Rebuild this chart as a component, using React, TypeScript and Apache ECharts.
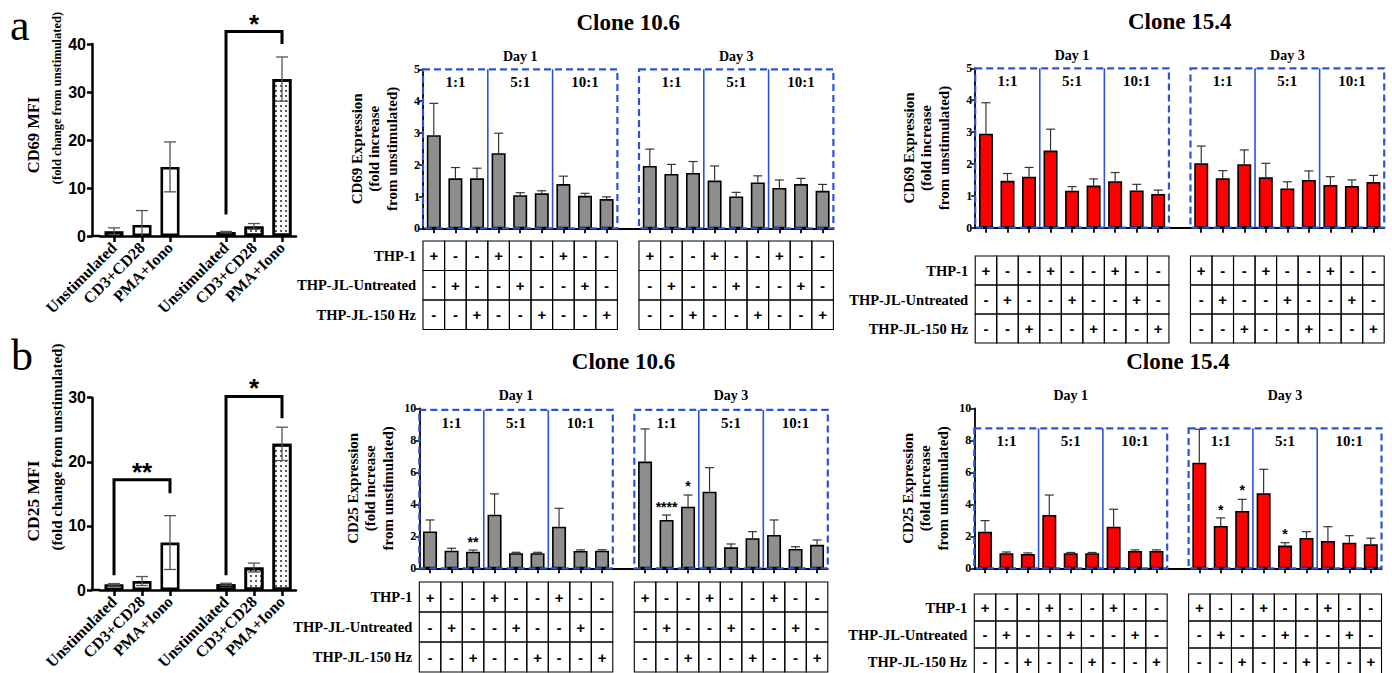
import { useEffect, useRef } from 'react';
import * as echarts from 'echarts';

const SERIF = '"Liberation Serif", "Times New Roman", serif';
const SANS = '"Liberation Sans", Arial, sans-serif';
const BLUE = '#2d52d8';

// ---------- left panels (MFI) ----------
const stimCategories = ['Unstimulated', 'CD3+CD28', 'PMA+Iono', '', 'Unstimulated', 'CD3+CD28', 'PMA+Iono'];
const cd69Mfi = [1.0, 2.3, 14.4, null, 0.8, 2.0, 32.7];
const cd69MfiErr = [0.7, 3.0, 5.2, null, 0.15, 0.6, 4.6];
const cd25Mfi = [0.9, 1.4, 7.4, null, 0.9, 3.5, 22.8];
const cd25MfiErr = [0.1, 0.7, 4.2, null, 0.15, 0.7, 2.6];
// [fromIndex, toIndex, leftLegBottom, top, rightLegBottom, label]
const cd69Brackets: any[] = [[4, 6, 4.5, 42.6, 40.0, '*']];
const cd25Brackets: any[] = [[0, 2, 2.3, 17.2, 15.1, '**'], [4, 6, 2.3, 30.2, 26.8, '*']];

// ---------- clone panels ----------
const days = ['Day 1', 'Day 3'];
const ratios = ['1:1', '5:1', '10:1'];
const cellTypes = ['THP-1', 'THP-JL-Untreated', 'THP-JL-150 Hz'];
const thp1Row = ['+', '-', '-', '+', '-', '-', '+', '-', '-'];
const untreatedRow = ['-', '+', '-', '-', '+', '-', '-', '+', '-'];
const hz150Row = ['-', '-', '+', '-', '-', '+', '-', '-', '+'];
const tableRows = [thp1Row, untreatedRow, hz150Row];

const cd69Clone106 = [2.93, 1.57, 1.57, 2.36, 1.04, 1.10, 1.39, 1.02, 0.92, null, 1.96, 1.71, 1.74, 1.50, 1.00, 1.44, 1.27, 1.39, 1.18];
const cd69Clone106Err = [1.0, 0.34, 0.32, 0.63, 0.08, 0.08, 0.25, 0.08, 0.07, null, 0.53, 0.30, 0.36, 0.46, 0.13, 0.21, 0.25, 0.18, 0.2];
const cd69Clone154 = [2.95, 1.47, 1.60, 2.42, 1.16, 1.32, 1.46, 1.17, 1.06, null, 2.02, 1.55, 1.99, 1.58, 1.23, 1.50, 1.34, 1.31, 1.43];
const cd69Clone154Err = [0.97, 0.23, 0.29, 0.67, 0.13, 0.21, 0.27, 0.19, 0.12, null, 0.54, 0.24, 0.45, 0.44, 0.21, 0.28, 0.26, 0.19, 0.21];
const cd25Clone106 = [2.3, 1.1, 1.04, 3.35, 0.94, 0.94, 2.6, 1.08, 1.1, null, 6.67, 3.02, 3.85, 4.79, 1.31, 1.88, 2.08, 1.21, 1.47];
const cd25Clone106Err = [0.72, 0.15, 0.1, 1.3, 0.06, 0.06, 1.15, 0.07, 0.06, null, 2.04, 0.31, 0.73, 1.5, 0.21, 0.41, 0.94, 0.14, 0.3];
const cd25Clone154 = [2.29, 0.94, 0.9, 3.33, 0.94, 0.94, 2.6, 1.08, 1.08, null, 6.6, 2.65, 3.58, 4.69, 1.42, 1.9, 1.71, 1.6, 1.5];
const cd25Clone154Err = [0.69, 0.08, 0.06, 1.25, 0.05, 0.05, 1.09, 0.07, 0.07, null, 2.09, 0.5, 0.73, 1.5, 0.18, 0.39, 0.89, 0.44, 0.38];
// [categoryIndex, value, label]
const cd25Stars106: any[] = [[2, 1.83, '**'], [11, 4.02, '****'], [12, 5.33, '*']];
const cd25Stars154: any[] = [[11, 3.85, '*'], [12, 5.06, '*'], [14, 2.33, '*']];

const cloneCategories: string[] = [];
days.forEach((d, di) => {
  if (di > 0) cloneCategories.push('');
  ratios.forEach((r) => cellTypes.forEach((c) => cloneCategories.push(`${d} ${r} ${c}`)));
});

const leftPanels = [
  {
    grid: { left: 100, top: 44, width: 196, height: 192 },
    ymax: 40, interval: 10, values: cd69Mfi, errors: cd69MfiErr, brackets: cd69Brackets,
    letter: 'a', letterPos: [10, 25],
    title1: 'CD69 MFI', t1: [33, 135, 16.5],
    title2: '(fold change from unstimulated)', t2: [57, 98, 12.5],
  },
  {
    grid: { left: 100, top: 397.7, width: 196, height: 192.3 },
    ymax: 30, interval: 10, values: cd25Mfi, errors: cd25MfiErr, brackets: cd25Brackets,
    letter: 'b', letterPos: [11, 355],
    title1: 'CD25 MFI', t1: [33, 501, 17.5],
    title2: '(fold change from unstimulated)', t2: [57, 447, 15],
  },
];

const clonePanels = [
  {
    grid: { left: 423, top: 69.3, width: 410.4, height: 159 }, ymax: 5, interval: 1,
    values: cd69Clone106, errors: cd69Clone106Err, color: '#8e8e8e', boxTop: 5,
    yTitle: 'CD69 Expression\n(fold increase\nfrom unstimulated)', title: 'Clone 10.6',
    stars: [], tableTop: 241, rowH: 29.5,
  },
  {
    grid: { left: 975.2, top: 68.3, width: 409, height: 159.4 }, ymax: 5, interval: 1,
    values: cd69Clone154, errors: cd69Clone154Err, color: '#ff0000', boxTop: 5,
    yTitle: 'CD69 Expression\n(fold increase\nfrom unstimulated)', title: 'Clone 15.4',
    stars: [], tableTop: 256, rowH: 29,
  },
  {
    grid: { left: 419.3, top: 408.3, width: 408.5, height: 160 }, ymax: 10, interval: 2,
    values: cd25Clone106, errors: cd25Clone106Err, color: '#8e8e8e', boxTop: 9.9,
    yTitle: 'CD25 Expression\n(fold increase\nfrom unstimulated)', title: 'Clone 10.6',
    stars: cd25Stars106, tableTop: 582, rowH: 30,
  },
  {
    grid: { left: 974.3, top: 408.3, width: 407.2, height: 160 }, ymax: 10, interval: 2,
    values: cd25Clone154, errors: cd25Clone154Err, color: '#ff0000', boxTop: 8.75,
    yTitle: 'CD25 Expression\n(fold increase\nfrom unstimulated)', title: 'Clone 15.4',
    stars: cd25Stars154, tableTop: 594, rowH: 27,
  },
];

const DOTS = {
  symbol: 'circle', symbolSize: 0.8, color: '#000', backgroundColor: '#fff',
  dashArrayX: [2, 3], dashArrayY: [2, 3],
};

function txt(text: string, x: number, y: number, font: string, align = 'center', vAlign = 'middle', extra: any = {}) {
  return { type: 'text', silent: true, ...extra, style: { text, x: extra.rotation ? 0 : x, y: extra.rotation ? 0 : y, font, fill: '#000', align, verticalAlign: vAlign, lineHeight: extra.lineHeight } , ...(extra.rotation ? { x, y } : {}) };
}

function buildOption() {
  const grids: any[] = [];
  const xAxes: any[] = [];
  const yAxes: any[] = [];
  const series: any[] = [];
  const graphics: any[] = [];

  leftPanels.forEach((p) => {
    const k = grids.length;
    grids.push({ ...p.grid });
    xAxes.push({
      type: 'category', gridIndex: k, data: stimCategories,
      axisLine: { show: true, lineStyle: { color: '#000', width: 2.5 } },
      axisTick: { show: true, alignWithLabel: true, length: 6, interval: (_i: number, v: string) => v !== '', lineStyle: { color: '#000', width: 2.5 } },
      axisLabel: { show: true, rotate: 45, interval: 0, fontFamily: SERIF, fontWeight: 'bold', fontSize: 16, color: '#000', margin: 9 },
    });
    yAxes.push({
      type: 'value', gridIndex: k, min: 0, max: p.ymax, interval: p.interval, offset: 8,
      axisLine: { show: true, lineStyle: { color: '#000', width: 2.5 } },
      axisTick: { show: true, length: 5, lineStyle: { color: '#000', width: 2.5 } },
      axisLabel: { fontFamily: SANS, fontWeight: 'bold', fontSize: 16, color: '#000', margin: 6 },
      splitLine: { show: false },
    });
    series.push({
      type: 'bar', xAxisIndex: k, yAxisIndex: k, barWidth: 19, silent: true,
      data: p.values.map((v, i) => (v == null ? '-' : i > 3 ? { value: v, itemStyle: { decal: DOTS } } : v)),
      itemStyle: { color: '#fff', borderColor: '#000', borderWidth: 2.6 },
    });
    series.push({
      type: 'custom', xAxisIndex: k, yAxisIndex: k, z: 5, silent: true,
      data: p.values.map((v, i) => (v == null ? null : [i, v, p.errors[i]])).filter(Boolean),
      renderItem: (_params: any, api: any) => {
        const i = api.value(0), v = api.value(1), e = api.value(2);
        const lo = Math.max(0, v - e);
        const top = api.coord([i, v + e]);
        const bot = api.coord([i, lo]);
        const cap = 6;
        const st = { stroke: '#555', lineWidth: 1.3 };
        const children: any[] = [
          { type: 'line', shape: { x1: top[0], y1: top[1], x2: bot[0], y2: bot[1] }, style: st },
          { type: 'line', shape: { x1: top[0] - cap, y1: top[1], x2: top[0] + cap, y2: top[1] }, style: st },
        ];
        if (lo > 0) children.push({ type: 'line', shape: { x1: bot[0] - cap, y1: bot[1], x2: bot[0] + cap, y2: bot[1] }, style: st });
        return { type: 'group', children };
      },
    });
    series.push({
      type: 'custom', xAxisIndex: k, yAxisIndex: k, z: 6, silent: true,
      data: p.brackets.map((b) => [b[0], b[1], b[2], b[3], b[4]]),
      encode: { x: [0, 1], y: [2, 3, 4] },
      renderItem: (params: any, api: any) => {
        const b = p.brackets[params.dataIndex];
        const a1 = api.coord([b[0], b[2]]);
        const a2 = api.coord([b[0], b[3]]);
        const a3 = api.coord([b[1], b[3]]);
        const a4 = api.coord([b[1], b[4]]);
        return {
          type: 'group', children: [
            { type: 'polyline', shape: { points: [a1, a2, a3, a4] }, style: { stroke: '#000', lineWidth: 3, fill: 'none' } },
            txt(b[5], (a2[0] + a3[0]) / 2, a2[1] - 8, `bold 26px ${SANS}`),
          ],
        };
      },
    });
    // axis extension to offset y axis
    series.push({
      type: 'custom', xAxisIndex: k, yAxisIndex: k, z: 4, silent: true,
      data: [[0, 0]],
      renderItem: (_params: any, api: any) => {
        const bw = api.size([1, 0])[0];
        const c = api.coord([0, 0]);
        const x0 = c[0] - bw / 2;
        return { type: 'line', shape: { x1: x0 - 9.25, y1: c[1], x2: x0, y2: c[1] }, style: { stroke: '#000', lineWidth: 2.5 } };
      },
    });
    graphics.push(txt(p.letter, p.letterPos[0], p.letterPos[1], `44px ${SERIF}`, 'left', 'middle'));
    graphics.push(txt(p.title1, p.t1[0], p.t1[1], `bold ${p.t1[2]}px ${SERIF}`, 'center', 'middle', { rotation: Math.PI / 2 }));
    graphics.push(txt(p.title2, p.t2[0], p.t2[1], `bold ${p.t2[2]}px ${SERIF}`, 'center', 'middle', { rotation: Math.PI / 2 }));
  });

  clonePanels.forEach((p) => {
    const k = grids.length;
    grids.push({ ...p.grid });
    xAxes.push({
      type: 'category', gridIndex: k, data: cloneCategories,
      axisLine: { show: true, lineStyle: { color: '#000', width: 1.8 } },
      axisTick: { show: true, alignWithLabel: true, length: 5, interval: (_i: number, v: string) => v !== '', lineStyle: { color: '#000', width: 1.8 } },
      axisLabel: { show: false },
    });
    yAxes.push({
      type: 'value', gridIndex: k, min: 0, max: p.ymax, interval: p.interval,
      axisLine: { show: true, lineStyle: { color: '#000', width: 1.8 } },
      axisTick: { show: true, length: 4, lineStyle: { color: '#000', width: 1.5 } },
      axisLabel: { fontFamily: SERIF, fontWeight: 'bold', fontSize: 12, color: '#000', margin: 3 },
      splitLine: { show: false },
    });
    series.push({
      type: 'bar', xAxisIndex: k, yAxisIndex: k, barWidth: 14, silent: true,
      data: p.values.map((v) => (v == null ? '-' : v)),
      itemStyle: { color: p.color, borderColor: '#000', borderWidth: 1.6 },
    });
    series.push({
      type: 'custom', xAxisIndex: k, yAxisIndex: k, z: 5, silent: true,
      data: p.values.map((v, i) => (v == null ? null : [i, v, p.errors[i]])).filter(Boolean),
      renderItem: (_params: any, api: any) => {
        const i = api.value(0), v = api.value(1), e = api.value(2);
        const top = api.coord([i, v + e]);
        const bot = api.coord([i, v]);
        const cap = 4.5;
        const st = { stroke: '#333', lineWidth: 1.2 };
        return {
          type: 'group', children: [
            { type: 'line', shape: { x1: top[0], y1: top[1], x2: bot[0], y2: bot[1] }, style: st },
            { type: 'line', shape: { x1: top[0] - cap, y1: top[1], x2: top[0] + cap, y2: top[1] }, style: st },
          ],
        };
      },
    });
    series.push({
      type: 'custom', xAxisIndex: k, yAxisIndex: k, z: 6, silent: true,
      data: [[0, 0]],
      renderItem: (_params: any, api: any) => {
        const bw = api.size([1, 0])[0];
        const cx = (i: number) => api.coord([i, 0])[0];
        const y0 = api.coord([0, 0])[1];
        const yb = api.coord([0, p.boxTop])[1];
        const yMax = api.coord([0, p.ymax])[1];
        const children: any[] = [];
        days.forEach((d, di) => {
          const s = di * 10;
          const L = cx(s) - bw / 2;
          const R = cx(s + 8) + bw / 2;
          children.push({ type: 'rect', shape: { x: L, y: yb, width: R - L, height: y0 - yb }, style: { fill: 'none', stroke: BLUE, lineWidth: 2.2, lineDash: [7, 4] } });
          [2, 5].forEach((j) => {
            const x = cx(s + j) + bw / 2;
            children.push({ type: 'line', shape: { x1: x, y1: yb, x2: x, y2: y0 }, style: { stroke: BLUE, lineWidth: 1.6 } });
          });
          ratios.forEach((r, j) => {
            const xm = (cx(s + 3 * j) + cx(s + 3 * j + 2)) / 2;
            children.push(txt(r, xm, yb + 13, `bold 15px ${SERIF}`));
          });
          children.push(txt(d, (L + R) / 2, yMax - 13, `bold 14px ${SERIF}`));
          tableRows.forEach((row, r) => {
            const top = p.tableTop + r * p.rowH;
            row.forEach((mark, j) => {
              const xl = cx(s + j) - bw / 2;
              children.push({ type: 'rect', shape: { x: xl, y: top, width: bw, height: p.rowH }, style: { fill: 'none', stroke: '#000', lineWidth: 1.1 } });
              children.push(txt(mark, cx(s + j), top + p.rowH / 2, `bold 15px ${SANS}`));
            });
          });
        });
        cellTypes.forEach((lab, r) => {
          children.push(txt(lab, cx(0) - bw / 2 - 7, p.tableTop + r * p.rowH + p.rowH / 2, `bold 14.5px ${SERIF}`, 'right'));
        });
        p.stars.forEach((st: any[]) => {
          const c = api.coord([st[0], st[1]]);
          children.push(txt(st[2], c[0], c[1] + 3, `bold 14px ${SANS}`));
        });
        const gl = cx(0) - bw / 2;
        const gr = cx(18) + bw / 2;
        children.push(txt(p.title, (gl + gr) / 2, yMax - 47, `bold 23px ${SERIF}`));
        children.push({
          type: 'text', silent: true, x: gl - 49, y: (yMax + y0) / 2, rotation: Math.PI / 2,
          style: { text: p.yTitle, x: 0, y: 0, font: `bold 15px ${SERIF}`, fill: '#000', align: 'center', verticalAlign: 'middle', lineHeight: 17.5 },
        });
        return { type: 'group', children };
      },
    });
  });

  return {
    animation: false,
    backgroundColor: '#fff',
    grid: grids,
    xAxis: xAxes,
    yAxis: yAxes,
    series,
    graphic: graphics,
  };
}

export default function App() {
  const ref = useRef<HTMLDivElement>(null);
  useEffect(() => {
    const chart = echarts.init(ref.current!, null, { renderer: 'svg' });
    chart.setOption(buildOption() as any);
    return () => chart.dispose();
  }, []);
  return <div ref={ref} style={{ position: 'fixed', left: 0, top: 0, width: 1392, height: 673, background: '#fff' }} />;
}
